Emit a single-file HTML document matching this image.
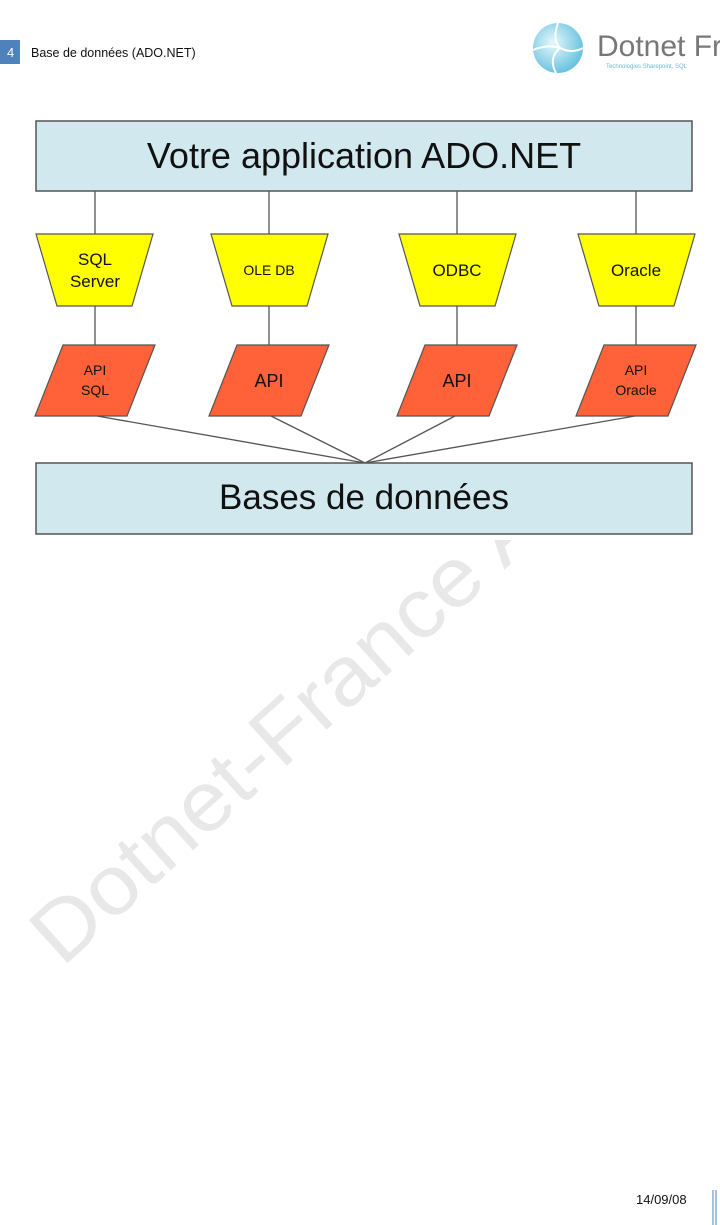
<!DOCTYPE html>
<html><head><meta charset="utf-8"><style>
html,body{margin:0;padding:0;background:#fff;width:720px;height:1225px;overflow:hidden;position:relative;font-family:"Liberation Sans",sans-serif}
</style></head><body>
<svg width="720" height="1225" style="position:absolute;left:0;top:0" xmlns="http://www.w3.org/2000/svg">
<text x="0" y="0" transform="translate(62,968) rotate(-42)" font-family="Liberation Sans,sans-serif" font-size="84" fill="#e8e8e8" textLength="700" lengthAdjust="spacingAndGlyphs">Dotnet-France As</text>
<rect x="0" y="0" width="720" height="540" fill="#fff"/>
<rect x="0" y="40" width="20" height="24" fill="#4f81bd"/>
<text x="7" y="57" font-size="13" fill="#fff">4</text>
<text x="31" y="57" font-size="12.5" fill="#111">Base de données (ADO.NET)</text>
<defs><radialGradient id="g" cx="40%" cy="40%" r="60%"><stop offset="0" stop-color="#e6f8fc"/><stop offset="1" stop-color="#6cc4df"/></radialGradient></defs>
<circle cx="558" cy="48" r="25" fill="url(#g)"/>
<path d="M558 23 Q552 40 560 48 Q548 58 556 73 M533 50 Q548 44 560 48 Q572 54 583 48" stroke="#fff" stroke-width="2" fill="none"/>
<text x="597" y="56" font-size="30" fill="#777">Dotnet Fr</text>
<text x="606" y="68" font-size="6" fill="#6ab8d8">Technologies Sharepoint, SQL</text>
<rect x="36" y="121" width="656" height="70" fill="#d1e8ee" stroke="#555" stroke-width="1.5"/>
<text x="364" y="168" font-size="36" text-anchor="middle" fill="#111">Votre application ADO.NET</text>
<g stroke="#555" stroke-width="1.3">
<line x1="95" y1="191" x2="95" y2="234"/><line x1="269" y1="191" x2="269" y2="234"/>
<line x1="457" y1="191" x2="457" y2="234"/><line x1="636" y1="191" x2="636" y2="234"/>
<line x1="95" y1="306" x2="95" y2="345"/><line x1="269" y1="306" x2="269" y2="345"/>
<line x1="457" y1="306" x2="457" y2="345"/><line x1="636" y1="306" x2="636" y2="345"/>
<line x1="97" y1="416" x2="365" y2="463"/><line x1="271" y1="416" x2="365" y2="463"/>
<line x1="455" y1="416" x2="365" y2="463"/><line x1="635" y1="416" x2="365" y2="463"/>
</g>
<g fill="#ffff00" stroke="#555" stroke-width="1.2">
<polygon points="36,234 153,234 132,306 57,306"/>
<polygon points="211,234 328,234 307,306 232,306"/>
<polygon points="399,234 516,234 495,306 420,306"/>
<polygon points="578,234 695,234 674,306 599,306"/>
</g>
<g fill="#ff6138" stroke="#555" stroke-width="1.2">
<polygon points="63,345 155,345 127,416 35,416"/>
<polygon points="237,345 329,345 301,416 209,416"/>
<polygon points="425,345 517,345 489,416 397,416"/>
<polygon points="604,345 696,345 668,416 576,416"/>
</g>
<g font-size="17" text-anchor="middle" fill="#111">
<text x="95" y="265">SQL</text><text x="95" y="287">Server</text>
<text x="269" y="275" font-size="14">OLE DB</text>
<text x="457" y="276">ODBC</text>
<text x="636" y="276">Oracle</text>
<text x="95" y="375" font-size="14">API</text><text x="95" y="395" font-size="14">SQL</text>
<text x="269" y="387" font-size="18">API</text>
<text x="457" y="387" font-size="18">API</text>
<text x="636" y="375" font-size="14">API</text><text x="636" y="395" font-size="14">Oracle</text>
</g>
<rect x="36" y="463" width="656" height="71" fill="#d1e8ee" stroke="#555" stroke-width="1.5"/>
<text x="364" y="509" font-size="35" text-anchor="middle" fill="#111">Bases de données</text>
<text x="636" y="1204" font-size="13" fill="#111">14/09/08</text>
<line x1="713" y1="1190" x2="713" y2="1225" stroke="#4f81bd" stroke-width="1"/>
<line x1="716" y1="1190" x2="716" y2="1225" stroke="#4f81bd" stroke-width="1"/>
</svg>
</body></html>
